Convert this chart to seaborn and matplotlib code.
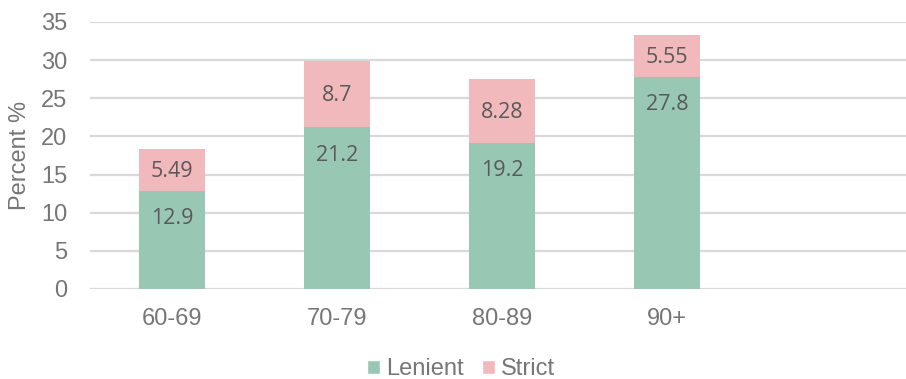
import matplotlib
matplotlib.use("Agg")
import matplotlib.pyplot as plt
import seaborn as sns
import pandas as pd
from matplotlib.patches import Patch

# Age groups and the two stacked series (percent)
age_groups = ["60-69", "70-79", "80-89", "90+"]
lenient = [12.9, 21.2, 19.2, 27.8]
strict = [5.49, 8.7, 8.28, 5.55]
y_ticks = [0, 5, 10, 15, 20, 25, 30, 35]

GREEN = "#98C8B4"
PINK = "#F2B9BC"
GRID = "#D9D9D9"
TICK_COLOR = "#767676"
LABEL_COLOR = "#595959"

sns.set_theme(style="white")
plt.rcParams["font.family"] = ["Liberation Sans", "DejaVu Sans"]

df = pd.DataFrame({"age": age_groups, "lenient": lenient, "strict": strict})

fig = plt.figure(figsize=(9.06, 3.79), dpi=100)
ax = fig.add_axes([0.099, 0.2375, 0.901, 0.7045])

sns.barplot(data=df, x="age", y="lenient", color=GREEN, width=0.4,
            saturation=1, linewidth=0, ax=ax, zorder=3)
sns.barplot(data=df, x="age", y="strict", bottom=df["lenient"], color=PINK,
            width=0.4, saturation=1, linewidth=0, ax=ax, zorder=3)

ax.set_xlim(-0.5, 4.45)
ax.set_ylim(0, 35)
ax.set_yticks(y_ticks)
for t in y_ticks:
    ax.axhline(t, color=GRID, lw=1.6, zorder=1)

for s in ax.spines.values():
    s.set_visible(False)
ax.tick_params(axis="both", length=0, labelsize=17, colors=TICK_COLOR)
ax.tick_params(axis="y", pad=16)
ax.tick_params(axis="x", pad=14)
ax.set_xlabel("")
ax.set_ylabel("Percent %", fontsize=17, color=TICK_COLOR)
ax.yaxis.set_label_coords(-0.072, 0.5)

# Value labels: lenient near the segment top, strict centred in its segment
lab_font = ["Open Sans", "DejaVu Sans"]
for i, (l, s) in enumerate(zip(lenient, strict)):
    ax.annotate(f"{l:g}", xy=(i, l), xytext=(0, -20), textcoords="offset points",
                ha="center", va="center", fontsize=15.5, color=LABEL_COLOR,
                family=lab_font, zorder=4)
    ax.annotate(f"{s:g}", xy=(i, l + s / 2), xytext=(0, -1), textcoords="offset points",
                ha="center", va="center", fontsize=15.5, color=LABEL_COLOR,
                family=lab_font, zorder=4)

handles = [Patch(facecolor=GREEN, label="Lenient"), Patch(facecolor=PINK, label="Strict")]
fig.legend(handles=handles, loc="center", bbox_to_anchor=(0.509, 0.026),
           ncol=2, frameon=False, fontsize=17, labelcolor=TICK_COLOR,
           handlelength=0.55, handleheight=0.55, handletextpad=0.25, columnspacing=0.8)

fig.savefig("out.png", dpi=100)
